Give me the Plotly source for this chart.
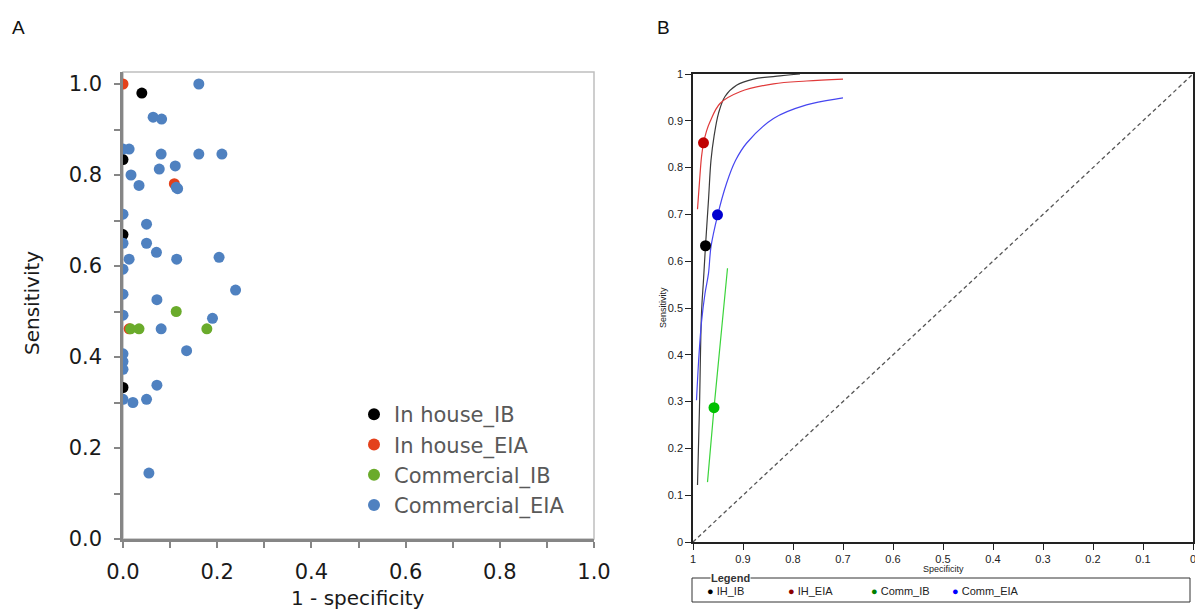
import plotly.graph_objects as go

# ---------------- Panel A data (1 - specificity, sensitivity) ----------------
ih_ib_x = [0.040, 0.000, 0.000, 0.000]
ih_ib_y = [0.980, 0.834, 0.669, 0.333]
ih_eia_x = [0.000, 0.109, 0.013]
ih_eia_y = [1.000, 0.781, 0.462]
comm_ib_x = [0.113, 0.016, 0.034, 0.178]
comm_ib_y = [0.500, 0.462, 0.462, 0.462]
comm_eia_x = [0.161, 0.064, 0.082, 0.000, 0.013, 0.081, 0.161, 0.210, 0.077, 0.111,
              0.017, 0.034, 0.113, 0.116, 0.000, 0.050, 0.000, 0.050, 0.071, 0.013,
              0.114, 0.204, 0.000, 0.000, 0.072, 0.239, 0.000, 0.190, 0.081, 0.135,
              0.000, 0.000, 0.000, 0.072, 0.000, 0.021, 0.050, 0.055]
comm_eia_y = [1.000, 0.927, 0.923, 0.857, 0.857, 0.846, 0.846, 0.846, 0.813, 0.820,
              0.800, 0.777, 0.773, 0.770, 0.714, 0.692, 0.650, 0.650, 0.630, 0.615,
              0.615, 0.619, 0.593, 0.538, 0.526, 0.547, 0.492, 0.485, 0.462, 0.414,
              0.407, 0.390, 0.373, 0.338, 0.307, 0.300, 0.307, 0.145]

# ---------------- Panel B data (specificity, sensitivity) ----------------
ib_curve_spec = [0.991, 0.987, 0.983, 0.979, 0.975, 0.969, 0.964, 0.958, 0.949, 0.936, 0.913, 0.879, 0.826, 0.786]
ib_curve_sens = [0.122, 0.289, 0.489, 0.560, 0.633, 0.731, 0.816, 0.866, 0.916, 0.952, 0.976, 0.989, 0.996, 1.000]
eia_curve_spec = [0.991, 0.987, 0.983, 0.979, 0.973, 0.966, 0.946, 0.906, 0.839, 0.773, 0.700]
eia_curve_sens = [0.711, 0.770, 0.823, 0.852, 0.878, 0.898, 0.937, 0.962, 0.979, 0.985, 0.989]
cib_curve_spec = [0.971, 0.958, 0.931]
cib_curve_sens = [0.128, 0.286, 0.585]
ceia_curve_spec = [0.993, 0.988, 0.983, 0.976, 0.969, 0.964, 0.951, 0.933, 0.915, 0.893, 0.839, 0.773, 0.706, 0.700]
ceia_curve_sens = [0.303, 0.400, 0.470, 0.531, 0.574, 0.631, 0.697, 0.766, 0.815, 0.852, 0.905, 0.934, 0.948, 0.949]

summary_names = ["IH_IB", "IH_EIA", "Comm_IB", "Comm_EIA"]
summary_spec = [0.975, 0.979, 0.958, 0.951]
summary_sens = [0.633, 0.853, 0.287, 0.699]

diag_spec = [1.0, 0.0]
diag_sens = [0.0, 1.0]

W, H = 1195, 610
def px(x):
    return x / W
def py(y):
    return (H - y) / H

fig = go.Figure()

# ---- Panel A traces ----
colA = {"black": "#000000", "red": "#E4411B", "green": "#6AAB2B", "blue": "#4F81C0"}
for name, xs, ys, c in [("In house_IB", ih_ib_x, ih_ib_y, colA["black"]),
                        ("In house_EIA", ih_eia_x, ih_eia_y, colA["red"]),
                        ("Commercial_IB", comm_ib_x, comm_ib_y, colA["green"]),
                        ("Commercial_EIA", comm_eia_x, comm_eia_y, colA["blue"])]:
    fig.add_trace(go.Scatter(x=xs, y=ys, mode="markers", name=name,
                             marker=dict(color=c, size=11, line=dict(width=0)),
                             xaxis="x", yaxis="y", showlegend=True))

# ---- Panel B traces ----
fig.add_trace(go.Scatter(x=diag_spec, y=diag_sens, mode="lines",
                         line=dict(color="#555555", width=1.3, dash="4px,3px"),
                         xaxis="x2", yaxis="y2", showlegend=False))
curves = [(ib_curve_spec, ib_curve_sens, "#3a3a3a"),
          (eia_curve_spec, eia_curve_sens, "#E03A3A"),
          (cib_curve_spec, cib_curve_sens, "#3BD43B"),
          (ceia_curve_spec, ceia_curve_sens, "#4646F0")]
for xs, ys, c in curves:
    fig.add_trace(go.Scatter(x=xs, y=ys, mode="lines", line=dict(color=c, width=1.2, shape="spline"),
                             xaxis="x2", yaxis="y2", showlegend=False))
sum_colors = ["#000000", "#C00000", "#00C000", "#0000D0"]
for i in range(4):
    fig.add_trace(go.Scatter(x=[summary_spec[i]], y=[summary_sens[i]], mode="markers",
                             marker=dict(color=sum_colors[i], size=11),
                             xaxis="x2", yaxis="y2", showlegend=False))

fontA = "DejaVu Sans, Verdana, sans-serif"
fontB = "Liberation Sans, Arial, sans-serif"

fig.update_layout(
    width=W, height=H, template="none",
    margin=dict(l=0, r=0, t=0, b=0),
    paper_bgcolor="white", plot_bgcolor="white",
    showlegend=True,
    legend=dict(x=px(354), y=py(394), xanchor="left", yanchor="top",
                font=dict(family=fontA, size=21, color="#595959"),
                bgcolor="rgba(0,0,0,0)", itemsizing="constant", tracegroupgap=0,
                itemwidth=30),
    xaxis=dict(domain=[px(123), px(594)], range=[0, 1.0], anchor="y",
               tickmode="array", tickvals=[0, 0.2, 0.4, 0.6, 0.8, 1.0],
               ticktext=["0.0", "0.2", "0.4", "0.6", "0.8", "1.0"],
               ticks="outside", ticklen=6, tickwidth=2, tickcolor="#868686",
               minor=dict(ticks="outside", ticklen=6, tickwidth=2, tickcolor="#868686", dtick=0.1),
               showline=True, linecolor="#868686", linewidth=2.5, showgrid=False, zeroline=False,
               tickfont=dict(family=fontA, size=21, color="#1a1a1a"), automargin=False,
               ticklabelstandoff=6),
    yaxis=dict(domain=[py(539), py(72)], range=[0, 1.0264], anchor="x",
               tickmode="array", tickvals=[0, 0.2, 0.4, 0.6, 0.8, 1.0],
               ticktext=["0.0", "0.2", "0.4", "0.6", "0.8", "1.0"],
               ticks="outside", ticklen=6, tickwidth=2, tickcolor="#868686",
               minor=dict(ticks="outside", ticklen=6, tickwidth=2, tickcolor="#868686",
                          tickvals=[0.1, 0.3, 0.5, 0.7, 0.9]),
               showline=True, linecolor="#868686", linewidth=2.5, showgrid=False, zeroline=False,
               tickfont=dict(family=fontA, size=21, color="#1a1a1a"), automargin=False,
               ticklabelstandoff=8),
    xaxis2=dict(domain=[px(693), px(1193)], range=[1, 0], anchor="y2",
                tickmode="array", tickvals=[1, 0.9, 0.8, 0.7, 0.6, 0.5, 0.4, 0.3, 0.2, 0.1, 0],
                ticktext=["1", "0.9", "0.8", "0.7", "0.6", "0.5", "0.4", "0.3", "0.2", "0.1", "0"],
                ticks="outside", ticklen=6, tickwidth=1, tickcolor="#222",
                showline=True, linecolor="#222", linewidth=1.5, mirror=True,
                showgrid=False, zeroline=False, ticklabeloverflow="allow",
                tickfont=dict(family=fontB, size=11, color="#222"), automargin=False),
    yaxis2=dict(domain=[py(542), py(74)], range=[0, 1], anchor="x2",
                tickmode="array", tickvals=[0, 0.1, 0.2, 0.3, 0.4, 0.5, 0.6, 0.7, 0.8, 0.9, 1],
                ticktext=["0", "0.1", "0.2", "0.3", "0.4", "0.5", "0.6", "0.7", "0.8", "0.9", "1"],
                ticks="outside", ticklen=6, tickwidth=1, tickcolor="#222",
                showline=True, linecolor="#222", linewidth=1.5, mirror=True,
                showgrid=False, zeroline=False,
                tickfont=dict(family=fontB, size=11, color="#222"), automargin=False),
)

# Panel A light frame (top/right)
fig.add_shape(type="rect", xref="x domain", yref="y domain", x0=0, x1=1, y0=0, y1=1,
              line=dict(color="#BFBFBF", width=1.5), layer="below")

ann = []
ann.append(dict(text="A", x=px(18), y=py(27), xref="paper", yref="paper", showarrow=False,
                font=dict(family=fontB, size=19, color="#111"), xanchor="center", yanchor="middle"))
ann.append(dict(text="B", x=px(663), y=py(27), xref="paper", yref="paper", showarrow=False,
                font=dict(family=fontB, size=19, color="#111"), xanchor="center", yanchor="middle"))
ann.append(dict(text="Sensitivity", x=px(32), y=py(303), xref="paper", yref="paper", showarrow=False,
                textangle=-90, font=dict(family=fontA, size=20, color="#1a1a1a"),
                xanchor="center", yanchor="middle"))
ann.append(dict(text="1 - specificity", x=px(358), y=py(598), xref="paper", yref="paper", showarrow=False,
                font=dict(family=fontA, size=20, color="#1a1a1a"), xanchor="center", yanchor="middle"))
ann.append(dict(text="Sensitivity", x=px(663), y=py(308), xref="paper", yref="paper", showarrow=False,
                textangle=-90, font=dict(family=fontB, size=9, color="#222"),
                xanchor="center", yanchor="middle"))
ann.append(dict(text="Specificity", x=px(943), y=py(569), xref="paper", yref="paper", showarrow=False,
                font=dict(family=fontB, size=9, color="#222"), xanchor="center", yanchor="middle",
                borderpad=0))

# Panel B legend box
fig.add_shape(type="rect", xref="paper", yref="paper", x0=px(692), x1=px(1190), y0=py(602), y1=py(578),
              line=dict(color="#333", width=1))
ann.append(dict(text="<b>Legend</b>", x=px(710), y=py(578), xref="paper", yref="paper", showarrow=False,
                font=dict(family=fontB, size=11, color="#333"), xanchor="left", yanchor="middle",
                bgcolor="white", borderpad=0))
leg_x = [705, 786, 869, 950]
leg_colors = ["#000000", "#8B0000", "#008000", "#0000FF"]
for i in range(4):
    ann.append(dict(text="<span style='color:%s'>\u25CF</span> %s" % (leg_colors[i], summary_names[i]),
                    x=px(leg_x[i]), y=py(591), xref="paper", yref="paper", showarrow=False,
                    font=dict(family=fontB, size=11, color="#222"), xanchor="left", yanchor="middle"))
fig.update_layout(annotations=ann)

fig.write_html("out.html")
